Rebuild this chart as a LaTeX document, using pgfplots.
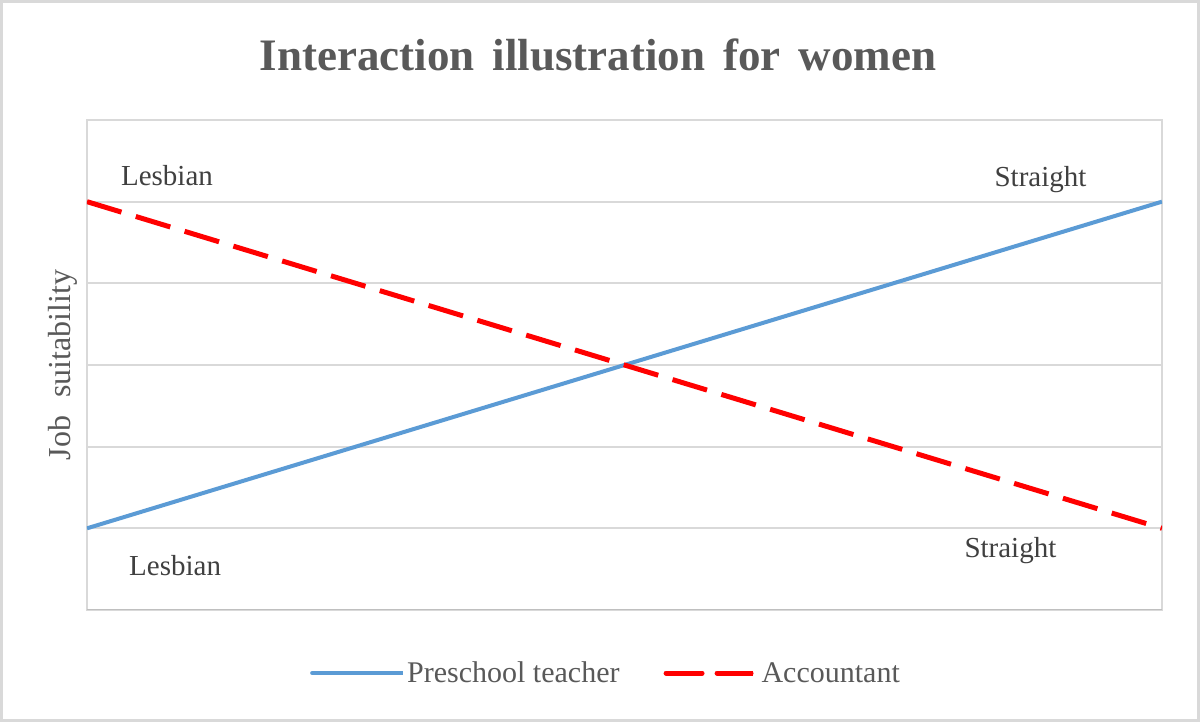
\documentclass[border=0pt]{standalone}
\usepackage{pgfplots}
\pgfplotsset{compat=1.18}
\usepackage{fontspec}
\setmainfont{Liberation Serif}
\definecolor{blueline}{HTML}{5B9BD5}
\definecolor{redline}{HTML}{FF0000}
\definecolor{gridc}{HTML}{D9D9D9}
\definecolor{axisc}{HTML}{BFBFBF}
\definecolor{txt}{HTML}{404040}
\definecolor{ttl}{HTML}{595959}
\begin{document}
\begin{tikzpicture}
\useasboundingbox (0pt,0pt) rectangle (1200pt,722pt);
\fill[white] (0pt,0pt) rectangle (1200pt,722pt);
\draw[gridc, line width=3pt] (1.5pt,1.5pt) rectangle (1198.5pt,720.5pt);
\begin{axis}[
  at={(87pt,112pt)}, anchor=south west,
  width=1075pt, height=490pt, scale only axis,
  xmin=0, xmax=1, ymin=0, ymax=6,
  xtick=\empty, ytick={1,2,3,4,5}, yticklabels={},
  major tick length=0pt,
  ymajorgrids, grid style={gridc, line width=2pt},
  axis line style={gridc, line width=2pt},
  ylabel={Job\hspace{0.3em} suitability},
  ylabel style={at={(axis description cs:-0.0223,0.5)}, anchor=center,
    font=\fontsize{32}{38}\selectfont, text=ttl},
  legend columns=2,
  legend style={at={(axis description cs:0.4828,-0.1286)}, anchor=center,
    draw=none, fill=none, font=\fontsize{30}{36}\selectfont, text=ttl,
    /tikz/every even column/.append style={column sep=42pt}},
  legend image code/.code={\draw[#1, line cap=round] (0pt,0pt) -- (85pt,0pt); \path (0pt,0pt) -- (91pt,0pt);},
  clip=true,
]
\addplot[blueline, line width=4pt] coordinates {(0,1) (1,5)};
\addlegendentry{Preschool teacher}
\addplot[redline, line width=5pt, dash pattern=on 36pt off 15pt] coordinates {(0,5) (1,1)};
\addlegendentry{Accountant}
\draw[axisc, line width=2.5pt] (axis cs:0,0) -- (axis cs:1,0);
\node[text=txt, font=\fontsize{29}{34}\selectfont] at (axis cs:0.0744,5.314) {Lesbian};
\node[text=txt, font=\fontsize{29}{34}\selectfont] at (axis cs:0.887,5.265) {Straight};
\node[text=txt, font=\fontsize{29}{34}\selectfont] at (axis cs:0.082,0.539) {Lesbian};
\node[text=txt, font=\fontsize{29}{34}\selectfont] at (axis cs:0.859,0.722) {Straight};
\end{axis}
\node[text=ttl, font=\fontsize{45}{54}\selectfont\bfseries] at (598pt,667pt) {Interaction\hspace{0.15em} illustration\hspace{0.15em} for\hspace{0.15em} women};
\end{tikzpicture}
\end{document}
